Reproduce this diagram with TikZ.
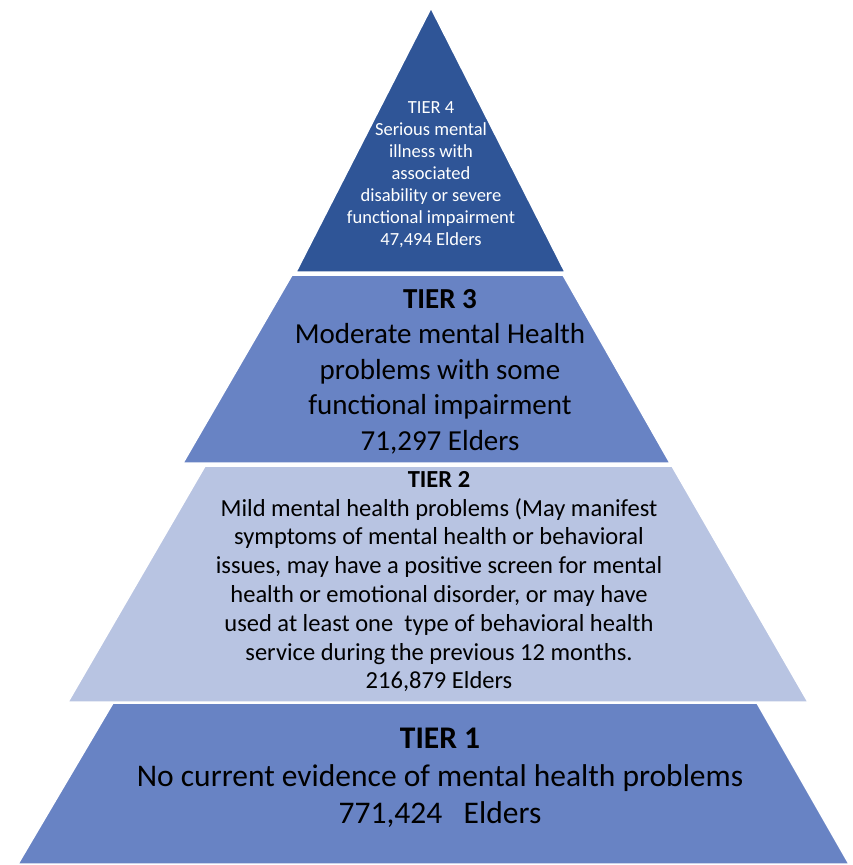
\documentclass[tikz,border=0pt]{standalone}
\usepackage{xcolor}
\usepackage{fontspec}
\setmainfont{Carlito}
\usepackage{tikz}
\usetikzlibrary{positioning}

\definecolor{tierdark}{HTML}{2F5597}
\definecolor{tiermid}{HTML}{6883C4}
\definecolor{tierlight}{HTML}{B8C4E2}

\begin{document}
\begin{tikzpicture}[
    x=1pt, y=-1pt,
    tier/.style={draw=white, line width=1.5pt, line join=miter},
    tiertext/.style={anchor=north, inner sep=0pt, align=center}
]
    \useasboundingbox (0,0) rectangle (852,865);

    % Tiers
    \fill [tier, fill=tiermid] (113,703) -- (757,703) -- (849,864) -- (18,864) -- cycle;
    \fill [tier, fill=tierlight] (205,466) -- (672,466) -- (808,702) -- (68,702) -- cycle;
    \fill [tier, fill=tiermid] (292,275) -- (563,275) -- (670,463) -- (183,463) -- cycle;
    \fill [tier, fill=tierdark] (431,8) -- (565,272) -- (296,272) -- cycle;

    % Texts
    \node [tiertext, text=white, font=\fontsize{18.5}{22}\selectfont] (tier4) at (431,101)
        {TIER 4\\Serious mental\\illness with\\associated\\disability or severe\\functional impairment\\47,494 Elders};
    \node [tiertext, font=\fontsize{29}{35.5}\selectfont] (tier3) at (440,289)
        {\textbf{TIER 3}\\Moderate mental Health\\problems with some\\functional impairment\\71,297 Elders};
    \node [tiertext, font=\fontsize{24.5}{28.8}\selectfont] (tier2) at (439,471)
        {\textbf{TIER 2}\\Mild mental health problems (May manifest\\symptoms of mental health or behavioral\\issues, may have a positive screen for mental\\health or emotional disorder, or may have\\used at least one\ \ type of behavioral health\\service during the previous 12 months.\\216,879 Elders};
    \node [tiertext, font=\fontsize{31.5}{37.5}\selectfont] (tier1) at (440,728)
        {\textbf{TIER 1}\\No current evidence of mental health problems\\771,424\ \ \ Elders};
\end{tikzpicture}
\end{document}
